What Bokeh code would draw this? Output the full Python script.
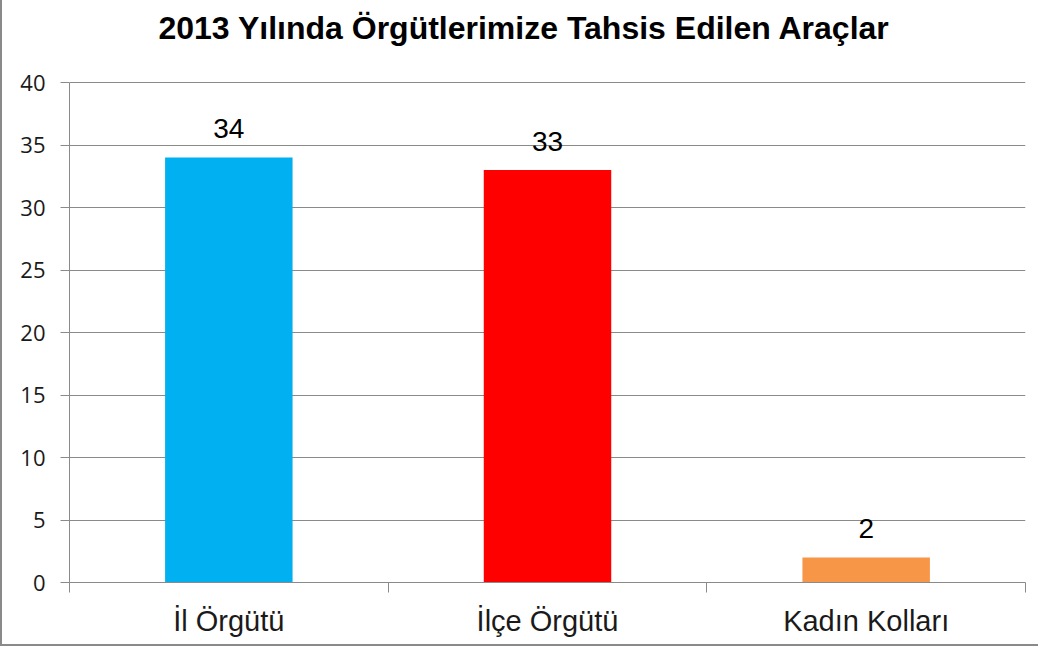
from bokeh.plotting import figure
from bokeh.models import ColumnDataSource, FixedTicker, Range1d, Label
from bokeh.core.properties import value
from bokeh.embed import file_html
from bokeh.resources import INLINE

# ---- data ----
title_text = "2013 Yılında Örgütlerimize Tahsis Edilen Araçlar"
categories = ["İl Örgütü", "İlçe Örgütü", "Kadın Kolları"]
counts = [34, 33, 2]
colors = ["#00B0F0", "#FF0000", "#F79646"]
y_ticks = [0, 5, 10, 15, 20, 25, 30, 35, 40]

xs = [i + 0.5 for i in range(len(categories))]
src = ColumnDataSource(dict(x=xs, top=counts, color=colors,
                            label=[str(c) for c in counts]))

# the frame reaches the top of the canvas so the title can sit inside it;
# the axis itself is bounded to 0..40
y_top = 47.04
p = figure(width=1038, height=654, output_backend="svg", toolbar_location=None,
           x_range=Range1d(0, len(categories)), y_range=Range1d(0, y_top),
           min_border_left=67, min_border_right=15, min_border_top=0,
           min_border_bottom=66)
p.styles = {"border-left": "2px solid #8a8a8a", "border-top": "2px solid #8a8a8a",
            "border-bottom": "2px solid #8a8a8a", "margin-top": "-8px"}
p.outline_line_color = None
p.background_fill_color = "white"
p.border_fill_color = "white"

p.vbar(x="x", top="top", width=0.4, bottom=0, source=src, fill_color="color",
       line_color=None)

p.text(x="x", y="top", text="label", source=src, y_offset=-29,
       text_align="center", text_baseline="alphabetic",
       text_font=value("Liberation Sans"), text_font_size="28px", text_color="black")

# axes
xa = p.xaxis[0]
xa.ticker = FixedTicker(ticks=xs, minor_ticks=list(range(len(categories) + 1)))
xa.major_label_overrides = {x: c for x, c in zip(xs, categories)}
xa.major_tick_line_color = None
xa.major_tick_out = 0
xa.major_tick_in = 0
xa.minor_tick_line_color = "#8a8a8a"
xa.minor_tick_out = 10
xa.minor_tick_in = 0
xa.axis_line_color = "#8a8a8a"
xa.major_label_text_font = "Liberation Sans"
xa.major_label_text_font_size = "29px"
xa.major_label_text_color = "#1a1a1a"
xa.major_label_standoff = 12

ya = p.yaxis[0]
ya.ticker = FixedTicker(ticks=y_ticks)
ya.bounds = (y_ticks[0], y_ticks[-1])
ya.minor_tick_line_color = None
ya.major_tick_out = 9
ya.major_tick_in = 0
ya.major_tick_line_color = "#8a8a8a"
ya.axis_line_color = "#8a8a8a"
ya.major_label_text_font = "Open Sans"
ya.major_label_text_font_size = "22px"
ya.major_label_text_color = "#1a1a1a"
ya.major_label_standoff = 15

p.xgrid.grid_line_color = None
p.ygrid.grid_line_color = "#8a8a8a"
p.ygrid.grid_line_width = 1
p.ygrid.ticker = FixedTicker(ticks=y_ticks)

# title, in screen pixels from the frame's lower-left corner
p.add_layout(Label(x=455, y=555, x_units="screen", y_units="screen", text=title_text,
                   text_align="center", text_baseline="alphabetic",
                   text_font="Liberation Sans", text_font_style="bold",
                   text_font_size="32px", text_color="black"))

open("out.html", "w").write(file_html(p, INLINE))
